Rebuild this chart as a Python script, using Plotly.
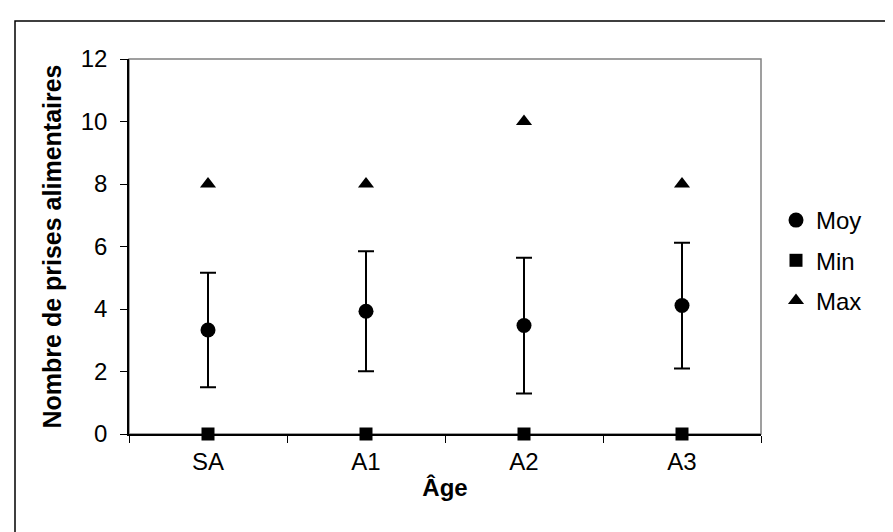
import plotly.graph_objects as go

# Data
categories = ["SA", "A1", "A2", "A3"]
moy = [3.33, 3.93, 3.47, 4.11]
moy_err = [1.83, 1.92, 2.17, 2.01]
mins = [0, 0, 0, 0]
maxs = [8, 8, 10, 8]
y_ticks = [0, 2, 4, 6, 8, 10, 12]

W, H = 893, 532
ML, MR, MT, MB = 121, 140, 51, 106
PW, PH = W - ML - MR, H - MT - MB

FONT = "Liberation Sans, Arial, sans-serif"

fig = go.Figure()
fig.add_trace(go.Scatter(
    x=categories, y=moy, mode="markers", name="Moy", legendgroup="a",
    marker=dict(symbol="circle", size=15, color="black"),
    error_y=dict(type="data", array=moy_err, visible=True, color="black", thickness=2, width=8),
    cliponaxis=False,
))
fig.add_trace(go.Scatter(
    x=categories, y=mins, mode="markers", name="Min", legendgroup="b",
    marker=dict(symbol="square", size=13, color="black"),
    cliponaxis=False,
))
fig.add_trace(go.Scatter(
    x=categories, y=maxs, mode="markers", name="Max", legendgroup="c",
    marker=dict(symbol="triangle-up", size=14, color="black"),
    cliponaxis=False,
))

def px_x(p):
    return (p - ML) / PW

def px_y(p):
    return (H - MB - p) / PH

shapes = [
    # plot area border (grey)
    dict(type="rect", xref="paper", yref="paper", x0=0, y0=0, x1=1, y1=1,
         line=dict(color="#808080", width=1.5), layer="below"),
    # outer chart border (only top/left visible)
    dict(type="rect", xref="paper", yref="paper", x0=px_x(7), y0=px_y(13), x1=px_x(1000), y1=px_y(700),
         line=dict(color="black", width=1.5), layer="below"),
]

fig.update_layout(
    width=W, height=H,
    margin=dict(l=ML, r=MR, t=MT, b=MB, autoexpand=False),
    paper_bgcolor="white", plot_bgcolor="white",
    font=dict(family=FONT, size=24, color="black"),
    showlegend=True,
    legend=dict(
        xref="container", yref="container",
        x=768 / W, xanchor="left",
        y=1 - 190 / H, yanchor="top",
        font=dict(size=24, family=FONT, color="black"),
        traceorder="grouped", tracegroupgap=6,
        bgcolor="rgba(0,0,0,0)", borderwidth=0,
    ),
    shapes=shapes,
    xaxis=dict(
        type="category", range=[-0.5, 3.5],
        showline=True, linecolor="black", linewidth=1.5,
        ticks="outside", tickson="boundaries", ticklen=7, tickcolor="black", tickwidth=1,
        showgrid=False, zeroline=False,
        tickfont=dict(size=24, family=FONT),
        ticklabelstandoff=5,
        title=dict(text="<b>Âge</b>", font=dict(size=24, family=FONT), standoff=6),
    ),
    yaxis=dict(
        range=[0, 12], tickvals=y_ticks,
        showline=True, linecolor="black", linewidth=1.5,
        ticks="outside", ticklen=7, tickcolor="black", tickwidth=1,
        showgrid=False, zeroline=False,
        tickfont=dict(size=24, family=FONT),
        ticklabelstandoff=8,
        title=dict(text="<b>Nombre de prises alimentaires</b>", font=dict(size=25, family=FONT), standoff=12),
    ),
)

fig.write_html("out.html")
